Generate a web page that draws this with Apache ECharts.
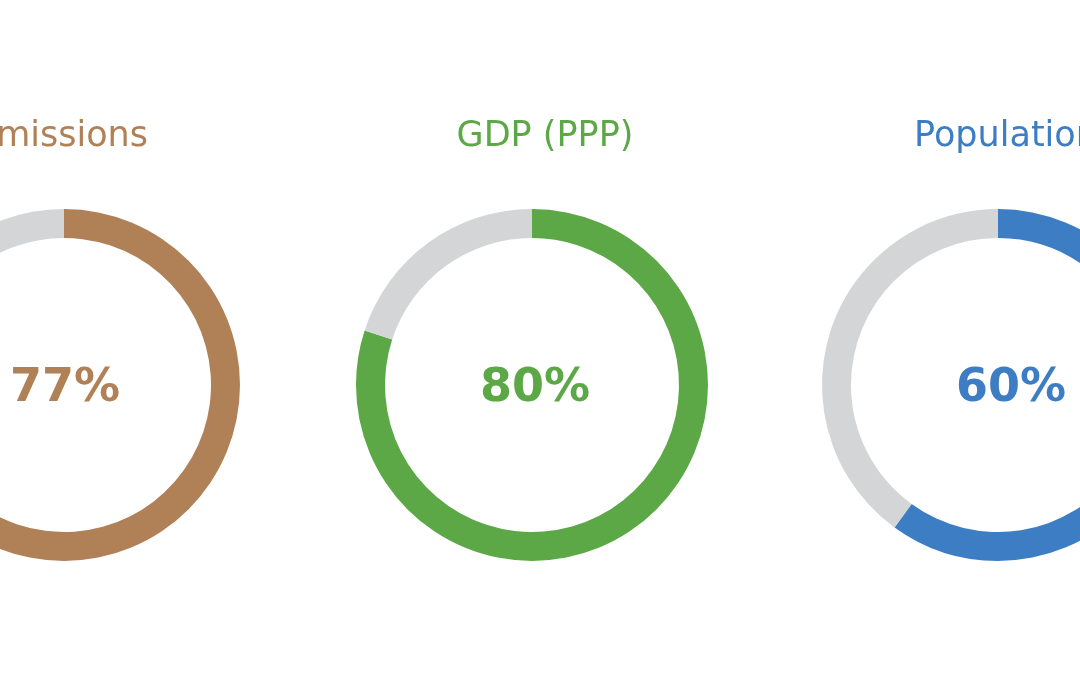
<!DOCTYPE html>
<html><head><meta charset="utf-8">
<script src="https://cdn.jsdelivr.net/npm/echarts@6/dist/echarts.min.js"></script>
<style>html,body{margin:0;padding:0;background:#fff}#c{width:1080px;height:675px}</style>
</head><body><div id="c"></div>
<script>
const categories = ['Emissions', 'GDP (PPP)', 'Population'];
const shares = [77, 80, 60];
const totals = [100, 100, 100];

const palette = ['#B08157', '#5CA846', '#3C7DC4'];
const rest = '#D4D5D7';
const centersX = [64, 532, 998];
const titleX = [61, 545, 1006];
const pctX = [65, 535, 1011];
const cy = 385;

const chart = echarts.init(document.getElementById('c'));
const graphics = [];
categories.forEach((t, i) => {
  graphics.push({
    type: 'text', silent: true,
    style: { text: t, x: titleX[i], y: 137, align: 'center', verticalAlign: 'middle',
      fill: palette[i], font: 'normal 35px "DejaVu Sans"' }
  });
  graphics.push({
    type: 'text', silent: true,
    style: { text: shares[i] + '%', x: pctX[i], y: 389, align: 'center', verticalAlign: 'middle',
      fill: palette[i], font: 'bold 46px "DejaVu Sans"' }
  });
});
const series = categories.map((t, i) => ({
  type: 'pie',
  center: [centersX[i], cy],
  radius: [147, 176],
  startAngle: 90,
  clockwise: true,
  silent: true,
  animation: false,
  emphasis: { disabled: true },
  label: { show: false },
  labelLine: { show: false },
  data: [
    { value: shares[i], name: t, itemStyle: { color: palette[i] } },
    { value: totals[i] - shares[i], name: 'rest', itemStyle: { color: rest } }
  ]
}));
chart.setOption({ backgroundColor: '#fff', graphic: graphics, series });
</script></body></html>
